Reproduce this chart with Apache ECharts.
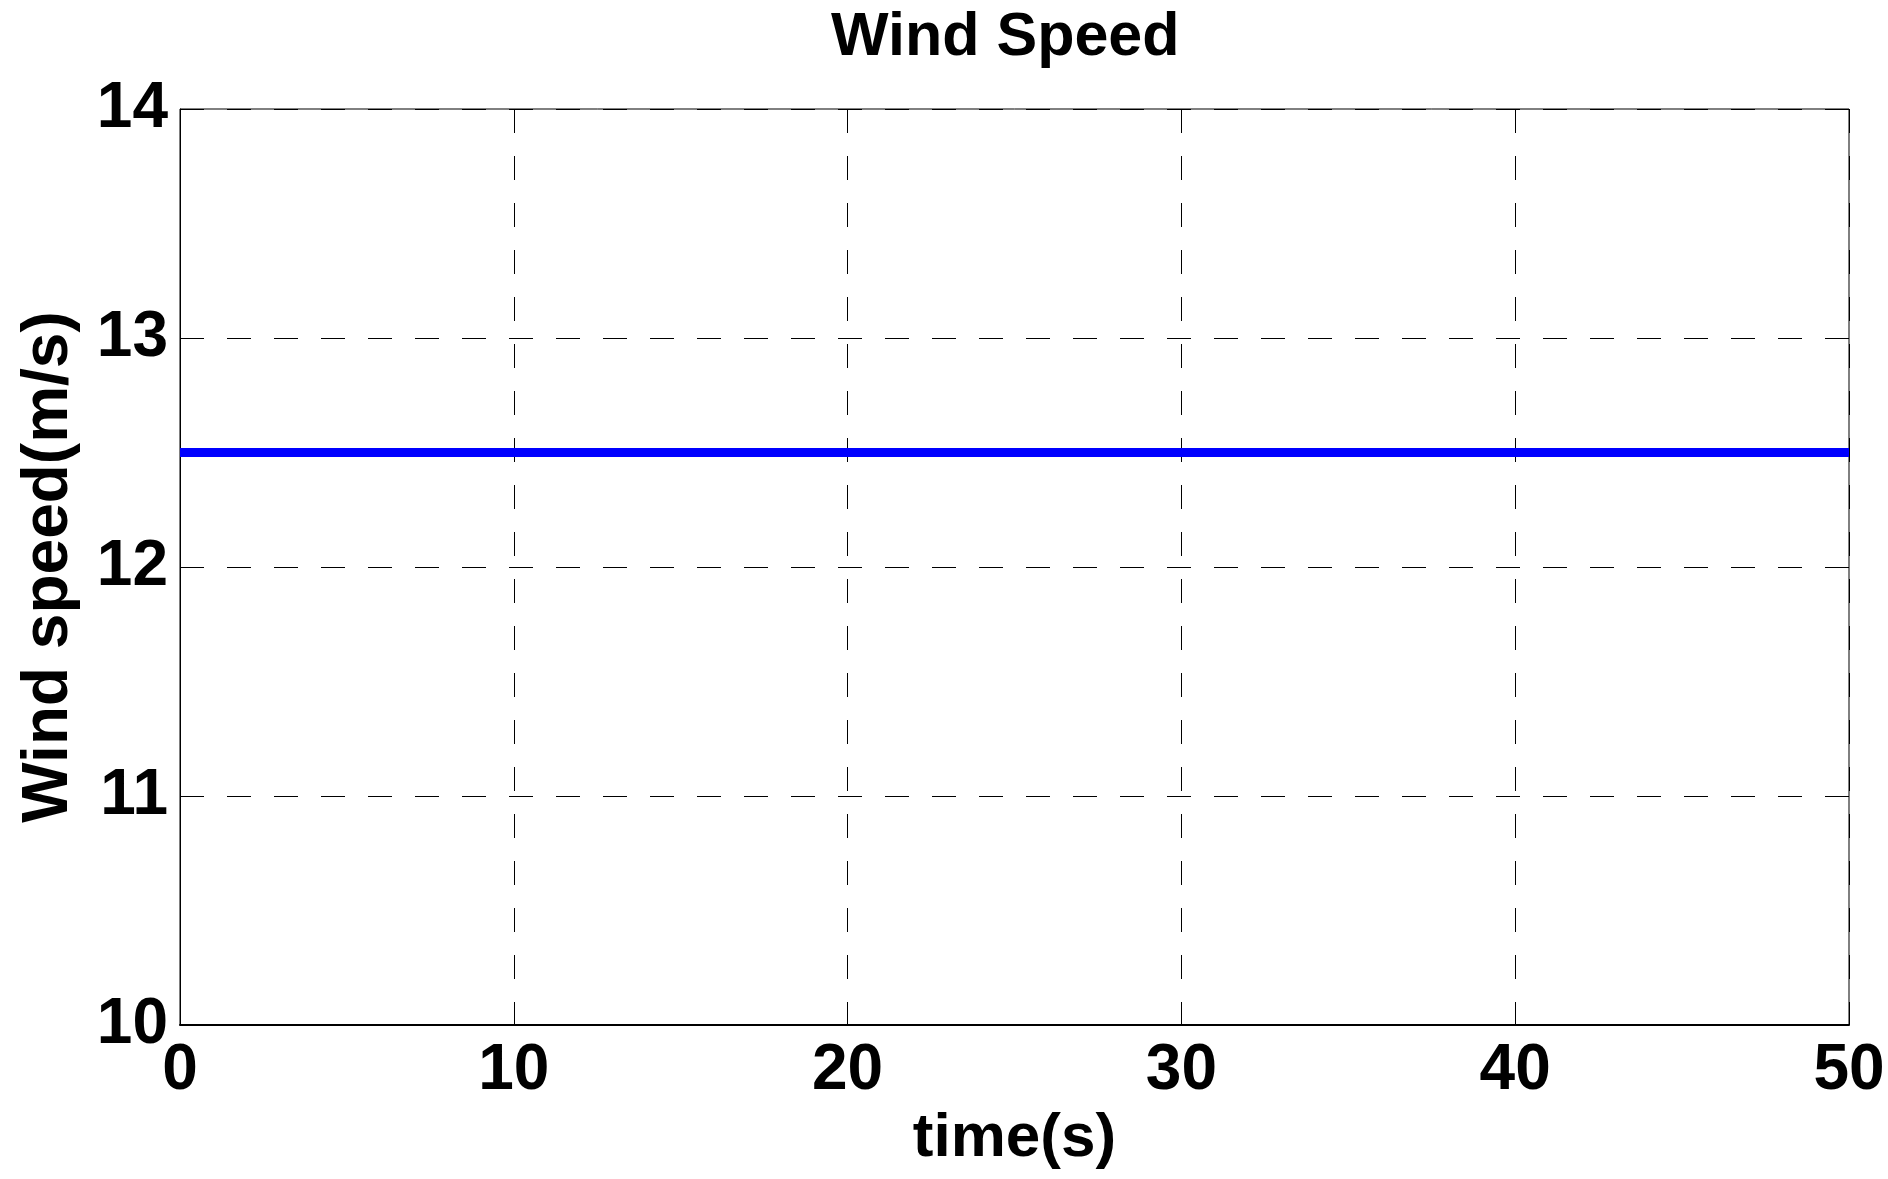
<!DOCTYPE html>
<html>
<head>
<meta charset="utf-8">
<script src="https://cdn.jsdelivr.net/npm/echarts@6/dist/echarts.min.js"></script>
<style>
html,body{margin:0;padding:0;background:#fff;}
#main{width:1888px;height:1179px;}
</style>
</head>
<body>
<div id="main"></div>
<script>
const titleText = "Wind Speed";
const xName = "time(s)";
const yName = "Wind speed(m/s)";
const time = [0, 50];
const windSpeed = [12.5, 12.5];
const xMin = 0, xMax = 50, xStep = 10;
const yMin = 10, yMax = 14, yStep = 1;

const FONT = "'Liberation Sans', Arial, Helvetica, sans-serif";
const chart = echarts.init(document.getElementById('main'), null, {renderer: 'canvas'});
const dash = {type: [24, 23], color: '#000', width: 1};
chart.setOption({
  animation: false,
  backgroundColor: '#fff',
  title: {
    text: titleText,
    left: 826,
    top: 3,
    textStyle: {fontFamily: FONT, fontSize: 61, fontWeight: 'bold', color: '#000'}
  },
  grid: {
    left: 180, right: 39, top: 109, bottom: 154,
    show: true, borderColor: '#000', borderWidth: 1, backgroundColor: '#fff'
  },
  xAxis: {
    type: 'value',
    min: xMin, max: xMax, interval: xStep,
    name: xName,
    nameLocation: 'middle',
    nameGap: 80,
    nameTextStyle: {fontFamily: FONT, fontSize: 62, fontWeight: 'bold', color: '#000'},
    axisLine: {show: true, onZero: false, lineStyle: {color: '#000', width: 2}},
    axisTick: {show: false},
    axisLabel: {margin: 14, fontFamily: FONT, fontSize: 64, fontWeight: 'bold', color: '#000'},
    splitLine: {show: true, lineStyle: dash}
  },
  yAxis: {
    type: 'value',
    min: yMin, max: yMax, interval: yStep,
    name: yName,
    nameLocation: 'middle',
    nameGap: 99,
    nameTextStyle: {fontFamily: FONT, fontSize: 64, fontWeight: 'bold', color: '#000'},
    axisLine: {show: true, onZero: false, lineStyle: {color: '#000', width: 1}},
    axisTick: {show: false},
    axisLabel: {margin: 12, fontFamily: FONT, fontSize: 64, fontWeight: 'bold', color: '#000'},
    splitLine: {show: true, lineStyle: dash}
  },
  series: [{
    type: 'line',
    data: time.map((t, i) => [t, windSpeed[i]]),
    showSymbol: false,
    lineStyle: {color: '#0000FF', width: 9},
    clip: true
  }]
});
</script>
</body>
</html>
